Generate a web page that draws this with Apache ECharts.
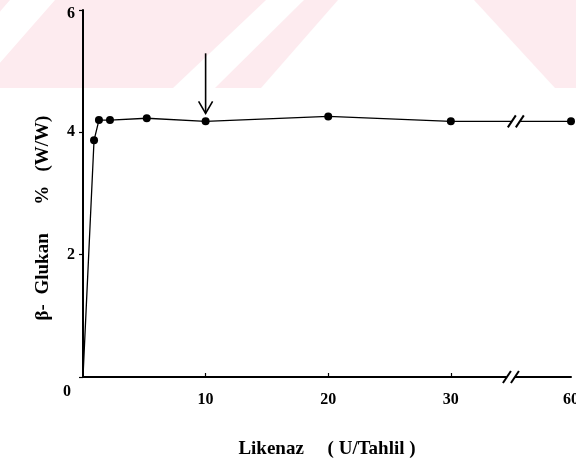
<!DOCTYPE html>
<html>
<head>
<meta charset="utf-8">
<script src="https://cdn.jsdelivr.net/npm/echarts@6/dist/echarts.min.js"></script>
<style>
  html, body { margin: 0; padding: 0; background: #fff; }
  #chart { width: 576px; height: 473px; }
</style>
</head>
<body>
<div id="chart"></div>
<script>
// Lichenase dose (U per assay) against measured β-glucan content (% w/w)
const enzymeDose = [0, 0.9, 1.3, 2.2, 5.2, 10, 20, 30, 60];
const glucanPct  = [0, 3.87, 4.2, 4.2, 4.23, 4.18, 4.26, 4.18, 4.18];

// Tick labels
const xTickValues = [10, 20, 30, 60];
const xTickLabels = ['10', '20', '30', '60'];
const yTickValues = [0, 2, 4, 6];

// Dose chosen as optimum, flagged with an arrow
const markedDose = 10;

// Broken x axis: linear up to 30, then 60 is drawn just past the break
const BREAK_FROM = 30;
const BREAK_AXIS_POS = 39.8;   // axis position used for values beyond the break
const BREAK_MARK_POS = 35.3;   // where the "//" marks sit on the axis
const toAxis = v => (v > BREAK_FROM ? BREAK_AXIS_POS : v);

const serif = '"Liberation Serif", "DejaVu Serif", serif';

// Line level at the break marks (interpolated between the points either side)
function levelAt(pos) {
  const xs = enzymeDose.map(toAxis);
  for (let i = 1; i < xs.length; i++) {
    if (pos <= xs[i]) {
      const t = (pos - xs[i - 1]) / (xs[i] - xs[i - 1]);
      return glucanPct[i - 1] + t * (glucanPct[i] - glucanPct[i - 1]);
    }
  }
  return glucanPct[glucanPct.length - 1];
}

const lineData = enzymeDose.map((d, i) => ({
  value: [toAxis(d), glucanPct[i]],
  symbol: d === 0 ? 'none' : 'circle'
}));

const breakData = [
  [BREAK_MARK_POS, levelAt(BREAK_MARK_POS)],
  [BREAK_MARK_POS - 0.4, 0]
];

const arrowData = [[markedDose, glucanPct[enzymeDose.indexOf(markedDose)]]];

// Pale diagonal watermark band across the top
const pink = '#fdebef';
const bandH = 88;
const whiteStripes = [
  [[10, 0], [55, 0], [-22, bandH], [-67, bandH]],
  [[266, 0], [304, 0], [215, bandH], [173, bandH]],
  [[338, 0], [474, 0], [555, bandH], [261, bandH]]
];

const chart = echarts.init(document.getElementById('chart'), null, { renderer: 'canvas' });

const tickFont = { fontFamily: serif, fontWeight: 'bold', fontSize: 16, color: '#000' };

chart.setOption({
  animation: false,
  backgroundColor: '#ffffff',
  graphic: [
    { type: 'rect', z: -10, silent: true, shape: { x: 0, y: 0, width: 576, height: bandH }, style: { fill: pink } }
  ].concat(whiteStripes.map(p => ({
    type: 'polygon', z: -9, silent: true, shape: { points: p }, style: { fill: '#ffffff' }
  }))),
  grid: {
    left: 83, right: 5, top: 10, bottom: 96,
    containLabel: false,
    outerBoundsMode: 'none'
  },
  xAxis: {
    type: 'value',
    min: 0,
    max: BREAK_AXIS_POS,
    name: 'Likenaz     ( U/Tahlil )',
    nameLocation: 'middle',
    nameGap: 63,
    nameTextStyle: { fontFamily: serif, fontWeight: 'bold', fontSize: 19, color: '#000' },
    axisLine: { lineStyle: { color: '#000', width: 2 } },
    axisTick: {
      inside: true, length: 4,
      customValues: xTickValues.filter(v => v <= BREAK_FROM).map(toAxis),
      lineStyle: { color: '#000', width: 1.2 }
    },
    axisLabel: Object.assign({
      customValues: xTickValues.map(toAxis),
      formatter: v => xTickLabels[xTickValues.map(toAxis).indexOf(v)] || '',
      margin: 15
    }, tickFont),
    splitLine: { show: false }
  },
  yAxis: {
    type: 'value',
    min: 0, max: 6, interval: 2,
    name: 'β-  Glukan      %   (W/W)',
    nameLocation: 'middle',
    nameGap: 25,
    nameTextStyle: {
      fontFamily: serif, fontWeight: 'bold', fontSize: 19, color: '#000',
      padding: [0, 49, 0, 0]
    },
    axisLine: { lineStyle: { color: '#000', width: 2 } },
    axisTick: { inside: false, length: 4, lineStyle: { color: '#000', width: 1.2 } },
    axisLabel: Object.assign({
      margin: 8,
      formatter: v => {
        if (!yTickValues.includes(v)) return '';
        if (v === 0) return '{o|0}';
        if (v === 6) return '{t|6}';
        return String(v);
      },
      rich: {
        o: Object.assign({ padding: [30, 4, 0, 0] }, tickFont),
        t: Object.assign({ padding: [8, 0, 0, 0] }, tickFont)
      }
    }, tickFont),
    splitLine: { show: false }
  },
  series: [
    {
      type: 'line',
      data: lineData,
      symbolSize: 8,
      itemStyle: { color: '#000' },
      lineStyle: { color: '#000', width: 1.3 },
      z: 3
    },
    {
      // "//" break marks on the data line and on the x axis
      type: 'custom',
      data: breakData,
      clip: false,
      z: 4,
      renderItem: (params, api) => {
        const p = api.coord([api.value(0), api.value(1)]);
        const style = { stroke: '#000', lineWidth: 2, fill: null };
        const mk = dx => ({
          type: 'line',
          shape: { x1: p[0] + dx - 4, y1: p[1] + 6, x2: p[0] + dx + 4, y2: p[1] - 6 },
          style
        });
        return {
          type: 'group',
          children: [
            { type: 'rect', shape: { x: p[0] - 4, y: p[1] - 2, width: 8, height: 4 }, style: { fill: '#fff' } },
            mk(-4), mk(4)
          ]
        };
      }
    },
    {
      // Arrow pointing down at the chosen dose
      type: 'custom',
      data: arrowData,
      clip: false,
      z: 4,
      renderItem: (params, api) => {
        const p = api.coord([api.value(0), api.value(1)]);
        const tipY = p[1] - 8;
        const style = { stroke: '#000', lineWidth: 1.6, fill: null };
        return {
          type: 'group',
          children: [
            { type: 'line', shape: { x1: p[0], y1: p[1] - 68, x2: p[0], y2: tipY }, style },
            { type: 'polyline', shape: { points: [[p[0] - 7, tipY - 12], [p[0], tipY], [p[0] + 7, tipY - 12]] }, style }
          ]
        };
      }
    }
  ]
});
</script>
</body>
</html>
